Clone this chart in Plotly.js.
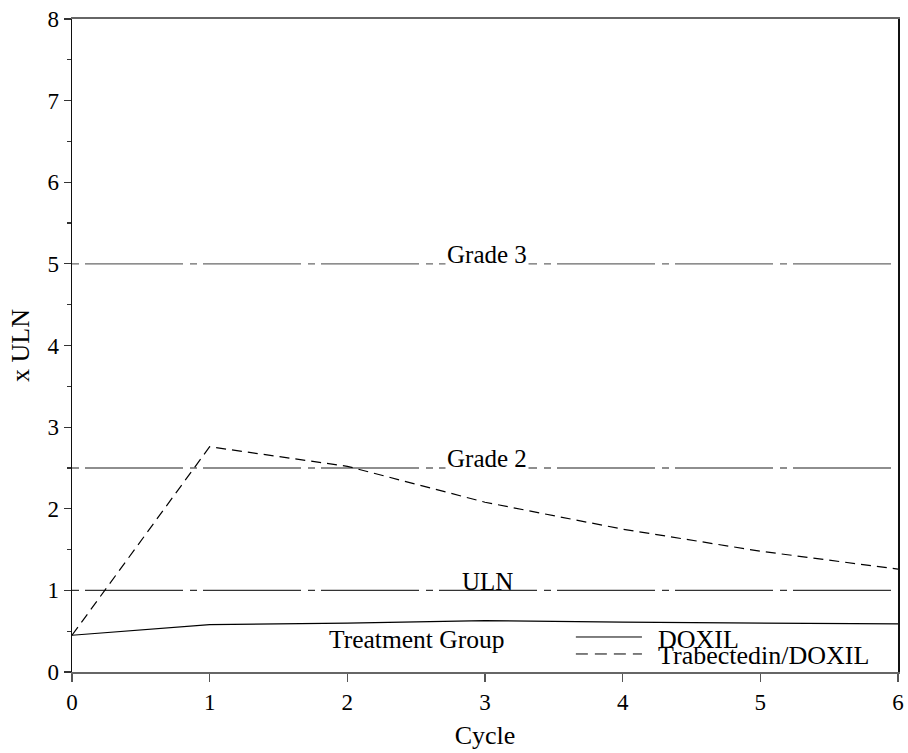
<!DOCTYPE html>
<html><head><meta charset="utf-8">
<script src="https://cdn.plot.ly/plotly-3.0.1.min.js"></script>
<style>body{margin:0;background:#fff}#c{width:908px;height:753px}</style>
</head><body><div id="c"></div>
<script>
const cycles = [0, 1, 2, 3, 4, 5, 6];
const doxil = [0.45, 0.58, 0.60, 0.63, 0.61, 0.60, 0.59];
const trabDoxil = [0.45, 2.76, 2.52, 2.08, 1.75, 1.48, 1.26];
const refLevels = [1, 2.5, 5];
const refLabels = ['ULN', 'Grade 2', 'Grade 3'];
const seriesNames = ['DOXIL', 'Trabectedin/DOXIL'];
const legendTitle = 'Treatment Group';

const F = 'Liberation Serif, Times New Roman, serif';

const traces = [
  {x: cycles, y: doxil, name: seriesNames[0], mode: 'lines', line: {color: '#000', width: 1.2}},
  {x: cycles, y: trabDoxil, name: seriesNames[1], mode: 'lines', line: {color: '#000', width: 1.2, dash: '10px,6px'}}
];

const shapes = refLevels.map((v, i) => ({
  type: 'line', xref: 'paper', yref: 'y', x0: 0, x1: 1, y0: v, y1: v,
  line: {color: i === 0 ? '#333' : '#6a6a6a', width: 1.4, dash: '7px,6px,98px,7px'}, layer: 'below'
}));
// legend samples
shapes.push({type: 'line', xref: 'paper', yref: 'paper', x0: 0.610, x1: 0.690, y0: 0.0536, y1: 0.0536,
  line: {color: '#000', width: 1}});
shapes.push({type: 'line', xref: 'paper', yref: 'paper', x0: 0.610, x1: 0.690, y0: 0.0276, y1: 0.0276,
  line: {color: '#000', width: 1, dash: '12px,7px'}});

const annotations = refLevels.map((v, i) => ({
  x: 3, y: v, xref: 'x', yref: 'y', text: refLabels[i], showarrow: false,
  font: {family: F, size: 25, color: '#000'}, bgcolor: i === 0 ? 'rgba(0,0,0,0)' : '#fff',
  borderpad: 1, xshift: 2, yshift: 9
}));
annotations.push({xref: 'paper', yref: 'paper', x: 0.4165, y: 0.0505, text: legendTitle, showarrow: false,
  font: {family: F, size: 25.5, color: '#000'}, xanchor: 'center', yanchor: 'middle'});
annotations.push({xref: 'paper', yref: 'paper', x: 0.707, y: 0.050, text: seriesNames[0], showarrow: false,
  font: {family: F, size: 26, color: '#000'}, xanchor: 'left', yanchor: 'middle'});
annotations.push({xref: 'paper', yref: 'paper', x: 0.707, y: 0.026, text: seriesNames[1], showarrow: false,
  font: {family: F, size: 26, color: '#000'}, xanchor: 'left', yanchor: 'middle'});

const layout = {
  width: 908, height: 753,
  margin: {l: 72, r: 10, t: 19, b: 81},
  paper_bgcolor: '#fff', plot_bgcolor: '#fff',
  showlegend: false,
  font: {family: F, size: 23, color: '#000'},
  xaxis: {
    range: [0, 6], tickvals: cycles, ticks: 'outside', ticklen: 8, tickcolor: '#555', tickwidth: 1.3,
    showgrid: false, zeroline: false, showline: true, linecolor: '#666', linewidth: 2, mirror: true,
    tickfont: {family: F, size: 23}, title: {text: 'Cycle', font: {family: F, size: 26}, standoff: 12}
  },
  yaxis: {
    range: [0, 8], dtick: 1, ticks: 'outside', ticklen: 7, tickcolor: '#333', tickwidth: 1.2,
    minor: {dtick: 0.5, ticks: 'outside', ticklen: 4, tickcolor: '#333', showgrid: false},
    showgrid: false, zeroline: false, showline: true, linecolor: '#111', linewidth: 1.5, mirror: true,
    tickfont: {family: F, size: 23}, title: {text: 'x ULN', font: {family: F, size: 26}, standoff: 10}
  },
  shapes: shapes,
  annotations: annotations
};
Plotly.newPlot('c', traces, layout, {displayModeBar: false, staticPlot: true});
</script></body></html>
